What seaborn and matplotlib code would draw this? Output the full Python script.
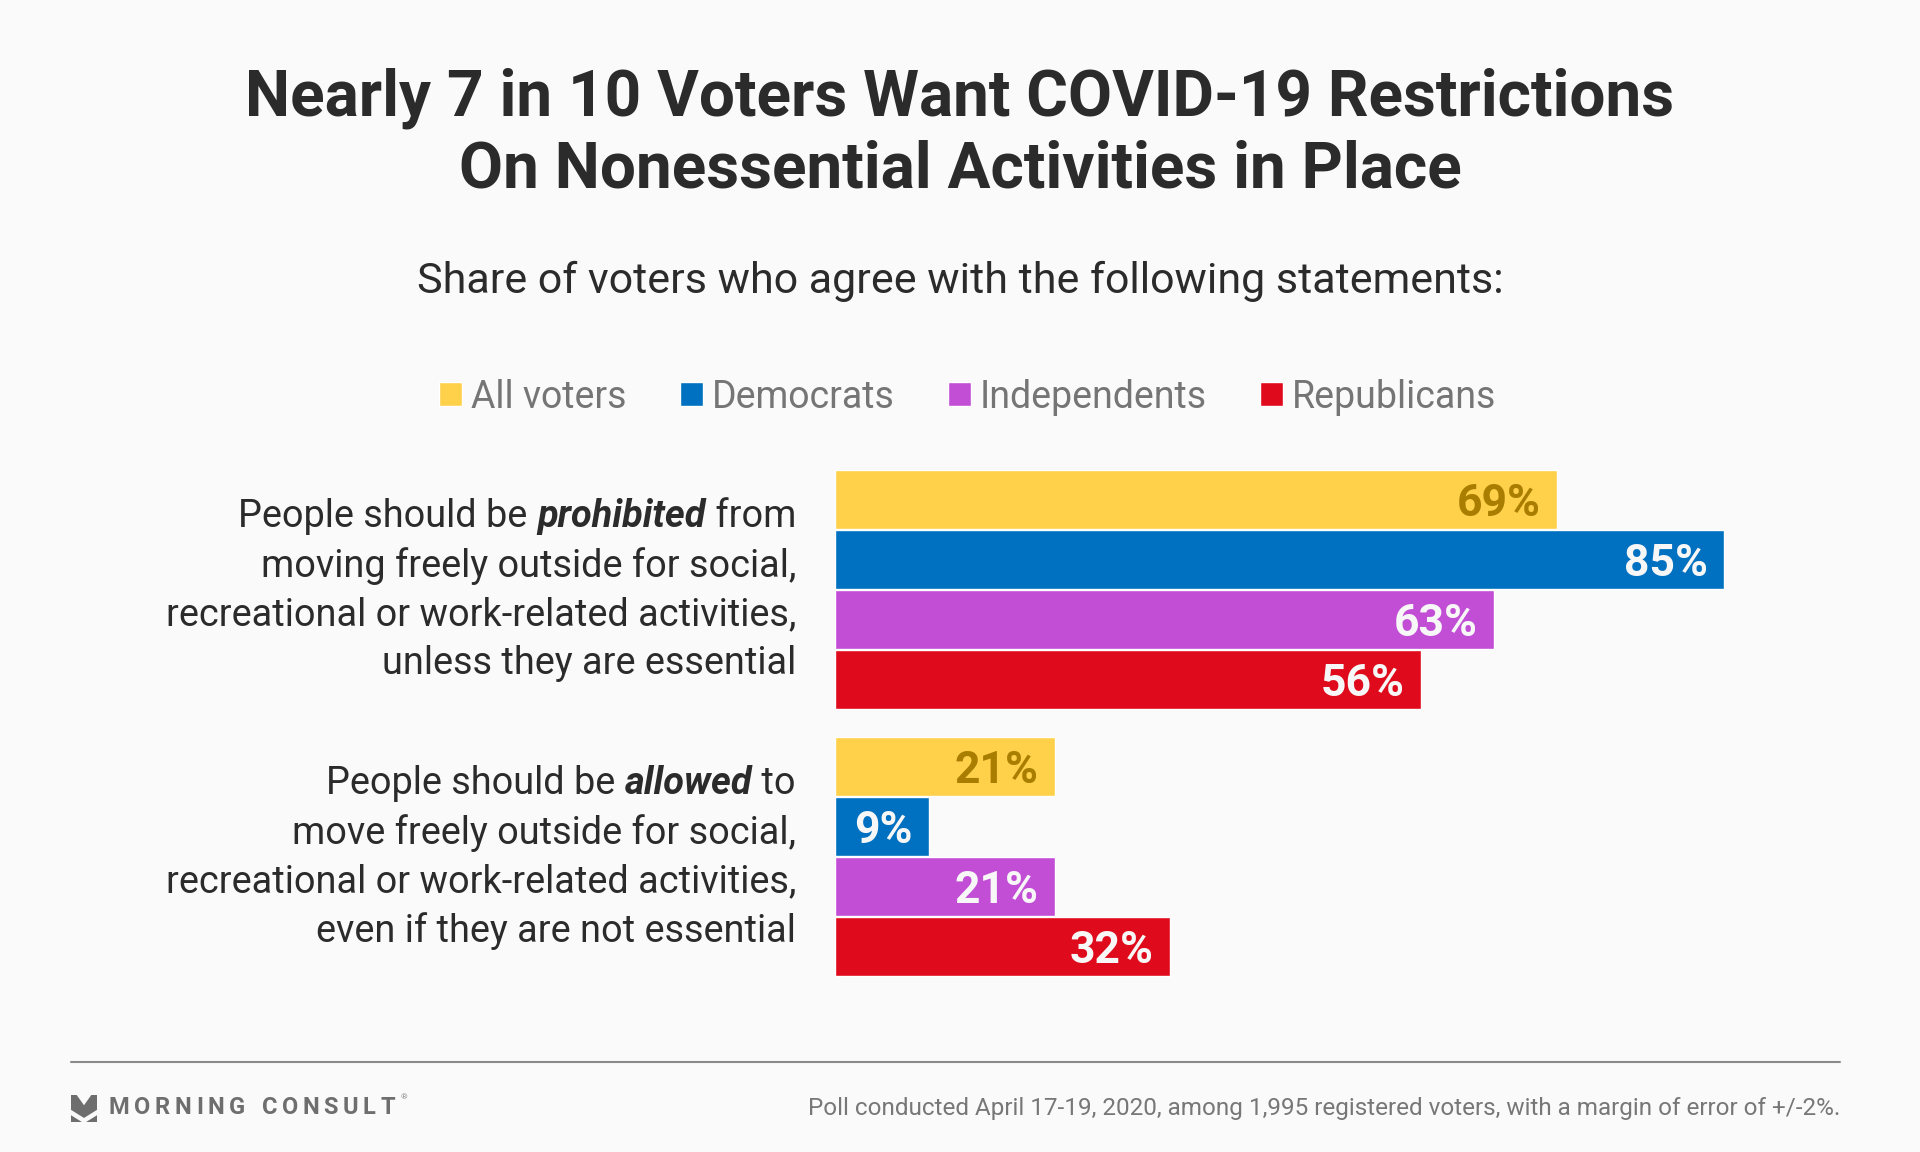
import pandas as pd
import matplotlib.pyplot as plt
import seaborn as sns
from matplotlib.patches import Polygon

# data
statements = ["prohibited", "allowed"]
groups = ["All voters", "Democrats", "Independents", "Republicans"]
prohibited_vals = [69, 85, 63, 56]
allowed_vals = [21, 9, 21, 32]
colors = ["#ffd049", "#0070c0", "#c24ed6", "#df0a1b"]
label_colors = ["#a87d00", "#f7f7f7", "#f7f7f7", "#f7f7f7"]

# statement labels, split in pieces (text, weight, style)
statement_lines = [
    [
        [("People should be ", "normal", "normal"), ("prohibited", "bold", "italic"), (" from", "normal", "normal")],
        [("moving freely outside for social,", "normal", "normal")],
        [("recreational or work-related activities,", "normal", "normal")],
        [("unless they are essential", "normal", "normal")],
    ],
    [
        [("People should be ", "normal", "normal"), ("allowed", "bold", "italic"), (" to", "normal", "normal")],
        [("move freely outside for social,", "normal", "normal")],
        [("recreational or work-related activities,", "normal", "normal")],
        [("even if they are not essential", "normal", "normal")],
    ],
]

title = "Nearly 7 in 10 Voters Want COVID-19 Restrictions\nOn Nonessential Activities in Place"
subtitle = "Share of voters who agree with the following statements:"
footnote = "Poll conducted April 17-19, 2020, among 1,995 registered voters, with a margin of error of +/-2%."
brand = "MORNING CONSULT"

df = pd.DataFrame({
    "statement": [s for s in statements for _ in groups],
    "group": groups * len(statements),
    "share": prohibited_vals + allowed_vals,
})

bg = "#fafafa"
sns.set_style("white")
plt.rcParams["font.family"] = ["Roboto", "DejaVu Sans"]

W, H = 1920, 1152
fig = plt.figure(figsize=(W / 100, H / 100), dpi=100, facecolor=bg)
ax = fig.add_axes([835 / W, 1 - 990 / H, 1046 / W, 534 / H])
ax.set_facecolor(bg)

sns.barplot(data=df, y="statement", x="share", hue="group", palette=colors,
            orient="h", width=0.9, gap=0.03, saturation=1, ax=ax)

ax.set_xlim(0, 100)
ax.set_ylim(1.5, -0.5)
ax.set_xlabel("")
ax.set_ylabel("")
ax.set_xticks([])
ax.set_yticks([])
sns.despine(ax=ax, left=True, bottom=True)

# value labels inside bars
for container, lc in zip(ax.containers, label_colors):
    for bar in container:
        v = bar.get_width()
        ax.text(v - 1.55, bar.get_y() + bar.get_height() / 2, f"{v:.0f}%",
                ha="right", va="center_baseline", fontsize=32, fontweight="bold", color=lc)

# legend
sns.move_legend(ax, "center", bbox_to_anchor=(968 / W, 1 - 397 / H), bbox_transform=fig.transFigure,
                ncol=4, frameon=False, title=None, fontsize=27, handlelength=0.6, handleheight=0.6,
                handletextpad=0.25, columnspacing=1.42)
for t in ax.get_legend().get_texts():
    t.set_color("#757575")

# titles
fig.text(0.5, 1 - 134 / H, title, ha="center", va="center", fontsize=46, fontweight="bold",
         color="#2b2b2b", linespacing=1.22)
fig.text(0.5, 1 - 281 / H, subtitle, ha="center", va="center", fontsize=31, color="#2b2b2b")

# statement labels, right aligned next to bars
renderer = fig.canvas.get_renderer()
label_right = 796
line_step = 49
for k, lines in enumerate(statement_lines):
    center_px = ax.transData.transform((0, k))[1] + 3
    for i, pieces in enumerate(lines):
        y = center_px + (1.5 - i) * line_step
        x = label_right
        for text, weight, style in reversed(pieces):
            t = fig.text(x / W, y / H, text, ha="right", va="center_baseline", fontsize=27.3,
                         fontweight=weight, fontstyle=style, color="#2b2b2b")
            x -= t.get_window_extent(renderer).width

# footer
fig.add_artist(plt.Line2D([71 / W, 1840 / W], [1 - 1062 / H, 1 - 1062 / H], color="#8a8a8a", lw=1.5))
fig.text(1840 / W, 1 - 1108 / H, footnote, ha="right", va="center", fontsize=17.5, color="#777777")

# logo
ix, iy, iw, ih = 71, 1095, 26, 27
shapes = [
    [(0, 0), (0.22, 0), (0.5, 0.38), (0.78, 0), (1, 0), (1, 0.55), (0.5, 0.85), (0, 0.55)],
    [(0, 0.75), (0.42, 1.0), (0, 1.0)],
    [(1, 0.75), (0.58, 1.0), (1, 1.0)],
]
for s in shapes:
    pts = [((ix + px * iw) / W, 1 - (iy + py * ih) / H) for px, py in s]
    fig.add_artist(Polygon(pts, closed=True, facecolor="#6e6e6e", edgecolor="none", transform=fig.transFigure))

# brand name with letter spacing
lx = 109
for ch in brand:
    t = fig.text(lx / W, 1 - 1108 / H, ch, ha="left", va="center", fontsize=17, fontweight="bold",
                 color="#6e6e6e")
    w = t.get_window_extent(renderer).width if ch != " " else 8
    lx += w + 4.5
fig.text((lx + 1) / W, 1 - 1097 / H, "®", ha="left", va="center", fontsize=6, color="#8a8a8a")

fig.savefig("out.png", dpi=100, facecolor=bg)
